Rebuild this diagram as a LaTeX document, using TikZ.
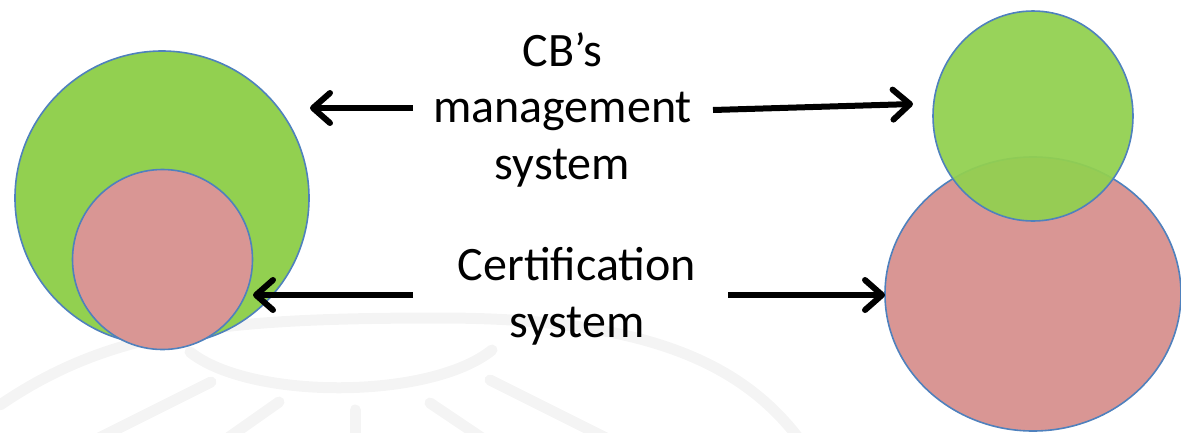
\documentclass[tikz,border=0pt]{standalone}
\usepackage{fontspec}
\setmainfont{Carlito}
\usetikzlibrary{arrows.meta,shapes.geometric}
\definecolor{cgreen}{HTML}{92D050}
\definecolor{cpink}{HTML}{D99694}
\definecolor{cblue}{HTML}{4F81BD}
\definecolor{wmark}{HTML}{F4F4F4}
\begin{document}
\begin{tikzpicture}[x=1pt,y=-1pt,
  blob/.style={ellipse, inner sep=0pt, outer sep=0pt, draw=cblue, line width=1.6pt},
  label/.style={align=center, inner sep=0pt, font=\fontsize{48}{56.5}\selectfont},
  conn/.style={line width=6pt, -{Straight Barb[length=17pt,width=30pt,line width=6pt,round]}},
  wm/.style={draw=wmark, line width=11pt, line cap=round}
]
\useasboundingbox (0,0) rectangle (1181,432);
% faint watermark
\draw[wm] (0,405) .. controls (110,330) and (220,318) .. (440,318) .. controls (640,318) and (740,360) .. (800,440);
\draw[wm] (190,352) .. controls (250,400) and (430,400) .. (492,350);
\draw[wm] (211,382) -- (95,440);
\draw[wm] (279,402) -- (225,440);
\draw[wm] (355,410) -- (355,440);
\draw[wm] (430,403) -- (485,440);
\draw[wm] (490,380) -- (610,440);
% left circles
\node[blob, fill=cgreen, minimum width=294pt, minimum height=294pt] (lbig) at (162,198) {};
\node[blob, fill=cpink, minimum width=180pt, minimum height=180pt] (lsmall) at (162.5,259.5) {};
% right circles
\node[blob, fill=cpink, minimum width=296pt, minimum height=274pt] (rbig) at (1033,294) {};
\node[blob, fill=cgreen, fill opacity=0.94, minimum width=200pt, minimum height=210pt] (rsmall) at (1033,116) {};
% texts
\node[label, anchor=base] (mgmt) at (562.5,179) {CB’s\\management\\system};
\node[label, anchor=base] (cert) at (577,337) {Certification\\system};
% connectors
\coordinate (t1) at (413,108);
\coordinate (h1) at (310,108);
\coordinate (t2) at (713,110);
\coordinate (h2) at (913,104);
\coordinate (t3) at (413,295);
\coordinate (h3) at (253,295);
\coordinate (t4) at (728,295);
\coordinate (h4) at (885,295);
\draw[conn] (t1) -- (h1);
\draw[conn] (t2) -- (h2);
\draw[conn] (t3) -- (h3);
\draw[conn] (t4) -- (h4);
\end{tikzpicture}
\end{document}
